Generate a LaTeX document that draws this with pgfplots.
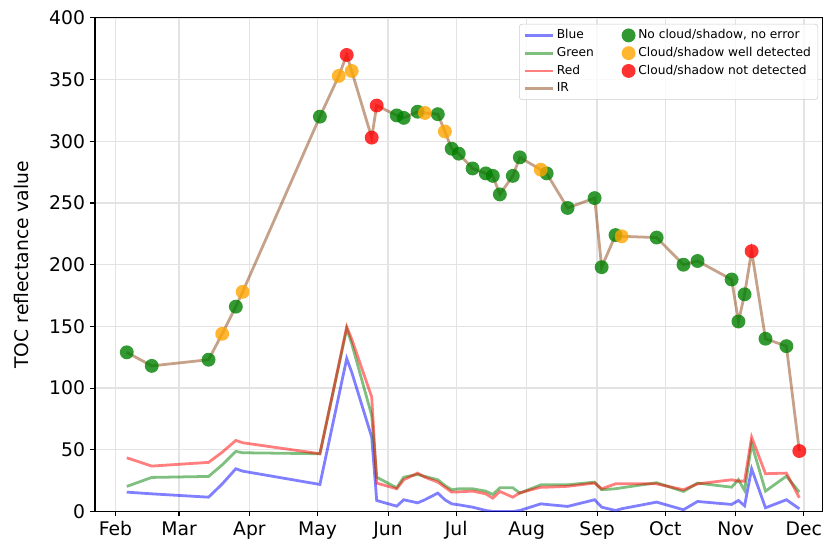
\documentclass[border=0pt]{standalone}
\usepackage{fontspec}
\setmainfont{DejaVu Sans}
\usepackage{pgfplots}
\usepackage{pgfplotstable}
\pgfplotsset{compat=1.18}

\definecolor{irbrown}{RGB}{139,69,19}
\definecolor{okgreen}{RGB}{0,128,0}
\definecolor{wellorange}{RGB}{255,165,0}
\definecolor{notred}{RGB}{255,0,0}

\pgfplotsset{
  bandline/.style={draw opacity=0.5, line width=2pt},
  dot/.style={only marks, mark=*, mark size=5pt,
    mark options={draw opacity=0, fill=#1, fill opacity=0.8}},
  longline/.style={legend image code/.code={\draw[##1] (0cm,0cm) -- (0.7cm,0cm);}},
}

% day of year, Blue, Green, Red, IR
\pgfplotstableread{
day   B     G     R     IR
37    15.7  20.3  43.5  129
48    14.3  27.6  36.8  118
73    11.6  28.4  39.8  123
79    22.3  37.8  48.0  144
85    34.6  48.7  57.6  166
88    32.7  47.6  55.7  178
122   21.9  46.8  46.8  320
130.3 93.6  118   119   353
133.8 123.9 148.2 149.6 370
136   112.9 136   139.7 357
144.8 60.3  77.9  92.8  303
147   8.9   27.8  23.0  329
155.8 4.3   19.2  18.4  321
158.9 9.5   27.8  25.7  319
165   7.0   30.0  31.1  324
168.2 9.5   28.4  27.8  323
173.9 14.9  25.7  23.8  322
177   9.5   21.1  19.7  308
180   6.2   17.6  15.7  294
183.1 5.4   18.4  15.9  290
189.2 3.5   18.4  16.5  278
195   0.8   16.5  14.3  274
198.1 0     13.8  10.8  272
201.2 0     19.2  16.2  257
206.9 0     19.2  11.6  272
210   0.8   14.9  15.1  287
219.2 6.2   21.6  19.7  277
221.8 5.7   21.6  19.7  274
231   4.1   21.6  20.4  246
242.9 9.5   23.8  23.0  254
246   3.5   17.6  18.4  198
252.1 0.8   18.4  22.4  224
254.8 2.2   19.2  22.4  223
270.2 7.6   23.3  22.4  222
282   1.4   16.2  17.6  200
288.2 8.1   23.0  22.4  203
303.2 5.7   19.7  25.7  188
306.2 8.9   25.7  24.6  154
308.9 4.6   17.0  24.6  176
312   34.6  54.9  60.3  211
318.1 3.0   16.5  30.6  140
327.3 9.5   28.6  31.1  134
333   2.2   15.7  11.1  49
}\bands

% detection classes on the IR curve
\pgfplotstableread{
day   IR
37    129
48    118
73    123
85    166
122   320
155.8 321
158.9 319
165   324
173.9 322
180   294
183.1 290
189.2 278
195   274
198.1 272
201.2 257
206.9 272
210   287
221.8 274
231   246
242.9 254
246   198
252.1 224
270.2 222
282   200
288.2 203
303.2 188
306.2 154
308.9 176
318.1 140
327.3 134
}\noerror

\pgfplotstableread{
day   IR
79    144
88    178
130.3 353
136   357
168.2 323
177   308
219.2 277
254.8 223
}\welldet

\pgfplotstableread{
day   IR
133.8 370
144.8 303
147   329
312   211
333   49
}\notdet

\begin{document}
\begin{tikzpicture}
\begin{axis}[
  scale only axis,
  width=523pt, height=355pt,
  xmin=23, xmax=343, ymin=0, ymax=400,
  xtick={32,60,91,121,152,182,213,244,274,305,335},
  xticklabels={Feb,Mar,Apr,May,Jun,Jul,Aug,Sep,Oct,Nov,Dec},
  ytick={0,50,...,400},
  /pgf/number format/assume math mode=true,
  ticklabel style={font=\fontsize{13.5}{15}\selectfont},
  ylabel={TOC reflectance value},
  every axis y label/.style={at={(axis description cs:-0.1004,0.5)},
    rotate=90, anchor=center, font=\fontsize{13.5}{15}\selectfont},
  grid=major,
  grid style={gray!22, line width=0.9pt},
  tick align=outside, tick pos=left,
  major tick length=3.6pt,
  axis line style={line width=0.8pt},
  every tick/.style={black, line width=0.8pt},
  legend columns=2,
  legend cell align=left,
  legend style={
    at={(0.9945,0.988)}, anchor=north east,
    font=\fontsize{8.8}{10}\selectfont,
    draw=gray!40, rounded corners=2pt,
    fill=white, fill opacity=0.8, text opacity=1,
    /tikz/every even column/.append style={column sep=18pt},
    row sep=0.6pt,
  },
]
\addplot[blue, bandline, forget plot] table[x=day, y=B] {\bands};
\addplot[okgreen, bandline, forget plot] table[x=day, y=G] {\bands};
\addplot[notred, bandline, forget plot] table[x=day, y=R] {\bands};
\addplot[irbrown, bandline, forget plot] table[x=day, y=IR] {\bands};

\addplot[dot=okgreen, forget plot] table[x=day, y=IR] {\noerror};
\addplot[dot=wellorange, forget plot] table[x=day, y=IR] {\welldet};
\addplot[dot=notred, forget plot] table[x=day, y=IR] {\notdet};

\addlegendimage{blue, bandline, longline}
\addlegendentry{Blue}
\addlegendimage{dot=okgreen}
\addlegendentry{No cloud/shadow, no error}
\addlegendimage{okgreen, bandline, longline}
\addlegendentry{Green}
\addlegendimage{dot=wellorange}
\addlegendentry{Cloud/shadow well detected}
\addlegendimage{notred, bandline, longline}
\addlegendentry{Red}
\addlegendimage{dot=notred}
\addlegendentry{Cloud/shadow not detected}
\addlegendimage{irbrown, bandline, longline}
\addlegendentry{IR}
\end{axis}
\path (current axis.south west) ++(-68.3pt,-23.7pt) coordinate (bbl);
\path (current axis.north east) ++(1.4pt,12.9pt) coordinate (btr);
\pgfresetboundingbox
\path (bbl) rectangle (btr);
\end{tikzpicture}
\end{document}
